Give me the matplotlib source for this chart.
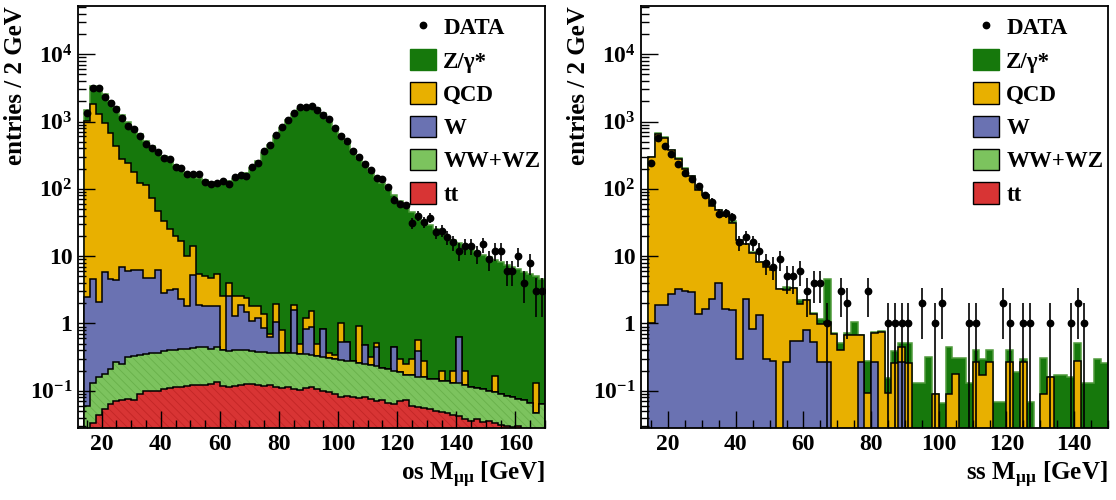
import numpy as np
import matplotlib.pyplot as plt
from matplotlib.patches import Patch
from matplotlib.lines import Line2D
from matplotlib.ticker import FixedLocator, FixedFormatter, LogLocator, MultipleLocator, NullFormatter

plt.rcParams['font.family'] = 'Liberation Serif'
plt.rcParams['font.weight'] = 'bold'
plt.rcParams['axes.labelweight'] = 'bold'
plt.rcParams['mathtext.fontset'] = 'custom'
plt.rcParams['mathtext.rm'] = 'Liberation Serif:bold'
plt.rcParams['mathtext.bf'] = 'Liberation Serif:bold'
plt.rcParams['mathtext.it'] = 'Liberation Serif:bold:italic'
plt.rcParams['hatch.linewidth'] = 0.6

# ---- opposite-sign dimuon mass, 2 GeV bins from 14 to 170 GeV ----
os_edges = np.arange(14, 172, 2)
os_data = [1360, 3100, 3100, 2350, 1870, 1510, 1110, 860, 770, 610,
           470, 400, 355, 290, 275, 212, 205, 167, 167, 167,
           128, 116, 121, 129, 120, 150, 160, 153, 211, 245,
           370, 455, 622, 840, 1055, 1340, 1620, 1620, 1700, 1480,
           1245, 1087, 790, 605, 515, 367, 302, 230, 193, 147,
           139, 105, 69, 59, 57, 31, 40, 32, 37, 23,
           24, 19, 16, 12, 14, 14, 11, 15, 9, 12,
           12, 6, 6, 10, 4, 8, 3, 3]
# stack levels (cumulative): total, qcd+below, w+below, ww+below, tt
os_zg = [1500, 3400, 3250, 2600, 2050, 1620, 1250, 980, 800, 650,
         520, 430, 360, 305, 265, 225, 195, 172, 155, 143,
         133, 127, 125, 127, 132, 140, 152, 170, 205, 255,
         335, 445, 600, 800, 1040, 1310, 1550, 1700, 1720, 1580,
         1340, 1080, 840, 640, 490, 375, 292, 230, 185, 150,
         122, 100, 82, 67, 55, 46, 39, 33.5, 29, 25,
         22, 19.5, 17.5, 15.5, 14, 12.7, 11.5, 10.5, 9.6, 8.8,
         8.1, 7.5, 7.0, 6.4, 5.9, 5.5, 5.0, 4.6]
os_qcd = [1020, 1800, 1310, 955, 665, 435, 280, 238, 175, 123,
          113, 72, 47, 33, 25.5, 20, 17, 10, 14, 5.4,
          5.0, 4.8, 5.5, 2.55, 4.0, 2.55, 2.6, 2.4, 1.8, 1.8,
          1.4, 0.7, 1.94, 0.79, 0.37, 1.87, 0.5, 1.19, 1.54, 0.5,
          0.84, 0.37, 0.34, 1.0, 0.53, 0.28, 0.91, 0.48, 0.32, 0.52,
          0.22, 0.21, 0.44, 0.3, 0.25, 0.3, 0.57, 0.28, 0.15, 0.15,
          0.2, 0.14, 0.2, 0.63, 0.2, 0.115, 0.11, 0.105, 0.1, 0.165,
          0.09, 0.085, 0.08, 0.075, 0.072, 0.065, 0.13, 0.063]
os_w = [2.5, 4.6, 2.1, 5.9, 4.5, 4.4, 6.9, 6.1, 6.3, 6.3,
        4.7, 4.7, 6.3, 2.85, 3.15, 3.3, 2.3, 1.8, 5.3, 1.9,
        1.8, 1.8, 1.8, 0.40, 2.55, 1.3, 1.9, 1.5, 1.1, 1.2,
        0.85, 0.64, 1.06, 0.36, 0.37, 1.6, 0.35, 0.84, 0.89, 0.33,
        0.84, 0.31, 0.30, 0.53, 0.53, 0.28, 0.26, 0.48, 0.24, 0.44,
        0.22, 0.21, 0.44, 0.19, 0.17, 0.17, 0.39, 0.16, 0.15, 0.15,
        0.14, 0.14, 0.13, 0.63, 0.12, 0.115, 0.11, 0.105, 0.1, 0.095,
        0.09, 0.085, 0.08, 0.075, 0.072, 0.065, 0.047, 0.063]
os_ww = [0.06, 0.13, 0.16, 0.18, 0.21, 0.27, 0.25, 0.32, 0.33, 0.34,
         0.35, 0.36, 0.37, 0.39, 0.40, 0.41, 0.42, 0.42, 0.43, 0.44,
         0.44, 0.42, 0.44, 0.40, 0.39, 0.40, 0.41, 0.40, 0.39, 0.38,
         0.38, 0.37, 0.37, 0.36, 0.37, 0.36, 0.35, 0.35, 0.34, 0.33,
         0.32, 0.31, 0.30, 0.29, 0.28, 0.28, 0.26, 0.25, 0.24, 0.23,
         0.22, 0.21, 0.20, 0.19, 0.17, 0.17, 0.16, 0.16, 0.15, 0.15,
         0.14, 0.14, 0.13, 0.13, 0.12, 0.115, 0.11, 0.105, 0.1, 0.095,
         0.09, 0.085, 0.08, 0.075, 0.072, 0.065, 0.047, 0.063]
os_tt = [0.02, 0.033, 0.043, 0.054, 0.064, 0.07, 0.072, 0.076, 0.072, 0.09,
         0.1, 0.1, 0.1, 0.105, 0.11, 0.112, 0.115, 0.118, 0.12, 0.12,
         0.122, 0.125, 0.135, 0.118, 0.115, 0.118, 0.12, 0.125, 0.128, 0.122,
         0.118, 0.12, 0.115, 0.11, 0.114, 0.108, 0.104, 0.11, 0.112, 0.106,
         0.1, 0.095, 0.09, 0.082, 0.084, 0.08, 0.078, 0.08, 0.076, 0.07,
         0.072, 0.066, 0.064, 0.07, 0.072, 0.06, 0.058, 0.055, 0.054, 0.05,
         0.048, 0.046, 0.044, 0.042, 0.038, 0.036, 0.038, 0.034, 0.035, 0.033,
         0.031, 0.03, 0.029, 0.03, 0.025, 0.02, 0.02, 0.02]

# ---- same-sign dimuon mass, 2 GeV bins from 14 to 150 GeV ----
ss_edges = np.arange(14, 152, 2)
ss_data = [246, 560, 440, 324, 230, 172, 140, 110, 80, 64,
           43, 44, 38, 16, 19, 16, 12, 8, 7, 9,
           5, 5, 6, 3, 4, 4, 1, 0, 3, 2,
           0, 0, 3, 0, 0, 1, 1, 1, 1, 0,
           2, 0, 1, 2, 0, 0, 0, 1, 1, 0,
           0, 0, 2, 1, 0, 1, 1, 0, 0, 1,
           0, 0, 1, 2, 1, 0, 0, 0]
ss_zg = [299, 680, 580, 380, 285, 205, 157, 98, 82, 59,
         49, 41, 33, 17.6, 15.2, 11.4, 8.3, 7.0, 6.4, 3.3,
         3.5, 3.4, 2.2, 2.25, 1.45, 1.17, 4.6, 0.72, 0.52, 0.73,
         1.05, 0.68, 0.28, 0.74, 0.76, 0.155, 0.39, 0.52, 0.52, 0.13,
         0.13, 0.32, 0.09, 0.065, 0.45, 0.31, 0.31, 0.13, 0.4, 0.3,
         0.4, 0.067, 0.067, 0.4, 0.19, 0.3, 0.067, 0, 0.31, 0.16,
         0.17, 0.17, 0.16, 0.51, 0.13, 0.13, 0.3, 0.26]
ss_qcd = [299, 650, 577, 375, 282, 200, 154, 95, 80, 55,
          48, 40, 31, 17.6, 15, 11.1, 8.2, 6.8, 6.2, 3.3,
          3.1, 3.4, 1.96, 2.2, 1.4, 0.97, 1.05, 0.7, 0.4, 0.68,
          0.68, 0.68, 0.093, 0.72, 0.74, 0.093, 0.26, 0.45, 0.26, 0,
          0, 0, 0.09, 0, 0.09, 0.18, 0, 0, 0.27, 0.17,
          0.27, 0, 0, 0.27, 0, 0.27, 0, 0, 0.09, 0.16,
          0, 0, 0, 0.28, 0, 0, 0, 0]
ss_w = [1.0, 1.85, 1.85, 2.7, 3.2, 3.0, 2.9, 1.4, 1.65, 2.33,
        4.0, 1.62, 1.56, 0.3, 2.33, 0.82, 1.35, 0.3, 0.28, 0,
        0.27, 0.55, 0.55, 0.8, 0.53, 0.27, 0.27, 0, 0, 0,
        0, 0.27, 0, 0.27, 0, 0, 0, 0.27, 0, 0,
        0, 0, 0, 0, 0, 0, 0, 0, 0, 0,
        0, 0, 0, 0, 0, 0, 0, 0, 0, 0,
        0, 0, 0, 0, 0, 0, 0, 0]

labels = ['Z/γ*', 'QCD', 'W', 'WW+WZ', 'tt']
c_zg = '#16780c'
c_qcd = '#e8b000'
c_w = '#6a72b2'
c_ww = '#7cc35e'
c_tt = '#d83434'
YMIN, YMAX = 0.028, 5.2e4
FLOOR = 1e-3


def draw_layer(ax, edges, vals, color, line='black', hatch=None, hcolor=None):
    v = np.asarray(vals, float)
    v = np.where(v > 0, v, FLOOR)
    ax.stairs(v, edges, baseline=FLOOR, fill=True, facecolor=color,
              edgecolor=hcolor if hcolor else color, lw=0, hatch=hatch)
    ax.stairs(v, edges, baseline=FLOOR, color=line, lw=1.1)


def draw_data(ax, edges, counts):
    n = np.asarray(counts, float)
    x = 0.5 * (edges[:-1] + edges[1:])
    m = n > 0
    lo = np.minimum(np.sqrt(n[m]), n[m] - FLOOR)
    ax.errorbar(x[m], n[m], yerr=[lo, np.sqrt(n[m])], fmt='o', color='black',
                ms=4.6, elinewidth=1.2, capsize=0)


def style_axis(ax, xmax, xlabel, tick_vals):
    ax.set_yscale('log')
    ax.set_ylim(YMIN, YMAX)
    ax.set_xlim(12, xmax)
    ax.yaxis.set_major_locator(FixedLocator([0.1, 1, 10, 100, 1000, 10000]))
    ax.yaxis.set_major_formatter(FixedFormatter(
        [r'$10^{-1}$', '1', '10', r'$10^{2}$', r'$10^{3}$', r'$10^{4}$']))
    ax.yaxis.set_minor_locator(LogLocator(base=10, subs=np.arange(2, 10), numticks=20))
    ax.yaxis.set_minor_formatter(NullFormatter())
    ax.xaxis.set_major_locator(FixedLocator(tick_vals))
    ax.xaxis.set_minor_locator(MultipleLocator(5))
    ax.tick_params(which='both', direction='in', top=False, right=False,
                   labelsize=17, width=1.0)
    ax.tick_params(which='major', length=12, pad=4)
    ax.tick_params(which='minor', length=6)
    for s in ax.spines.values():
        s.set_linewidth(1.3)
    ax.set_ylabel('entries / 2 GeV', fontsize=18, loc='top', labelpad=2)
    ax.set_xlabel(xlabel, fontsize=18, loc='right', labelpad=4)
    handles = [Line2D([], [], marker='o', color='black', ls='none', ms=4.6),
               Patch(facecolor=c_zg, edgecolor=c_zg),
               Patch(facecolor=c_qcd, edgecolor='black'),
               Patch(facecolor=c_w, edgecolor='black'),
               Patch(facecolor=c_ww, edgecolor='black'),
               Patch(facecolor=c_tt, edgecolor='black')]
    ax.legend(handles, ['DATA'] + labels, loc='upper right',
              bbox_to_anchor=(1.005, 0.993), frameon=False, fontsize=16.5,
              handlelength=1.15, handleheight=1.05, handletextpad=0.3,
              labelspacing=0.43, borderpad=0.2, borderaxespad=0.1)


fig = plt.figure(figsize=(11.16, 5.0), dpi=100)
ax1 = fig.add_axes([78 / 1116, 72 / 500, 467 / 1116, 422 / 500])
ax2 = fig.add_axes([641 / 1116, 72 / 500, 467 / 1116, 422 / 500])

# left panel: opposite sign
os_levels = np.maximum.accumulate(
    np.array([os_tt, os_ww, os_w, os_qcd, os_zg], float), axis=0)
draw_layer(ax1, os_edges, os_levels[4], c_zg, line='#4f9a3c')
draw_layer(ax1, os_edges, os_levels[3], c_qcd)
draw_layer(ax1, os_edges, os_levels[2], c_w)
draw_layer(ax1, os_edges, os_levels[1], c_ww, hatch='\\\\\\\\', hcolor='#68b04a')
draw_layer(ax1, os_edges, os_levels[0], c_tt, hatch='\\\\\\\\', hcolor='#c22626')
draw_data(ax1, os_edges, os_data)
style_axis(ax1, 170, r'os M$_{\mathrm{\mu\mu}}$ [GeV]', [20, 40, 60, 80, 100, 120, 140, 160])

# right panel: same sign
ss_levels = np.maximum.accumulate(np.array([ss_w, ss_qcd, ss_zg], float), axis=0)
draw_layer(ax2, ss_edges, ss_levels[2], c_zg, line='#4f9a3c')
draw_layer(ax2, ss_edges, ss_levels[1], c_qcd)
draw_layer(ax2, ss_edges, ss_levels[0], c_w)
draw_data(ax2, ss_edges, ss_data)
style_axis(ax2, 150, r'ss M$_{\mathrm{\mu\mu}}$ [GeV]', [20, 40, 60, 80, 100, 120, 140])

fig.savefig('out.png', dpi=100)
